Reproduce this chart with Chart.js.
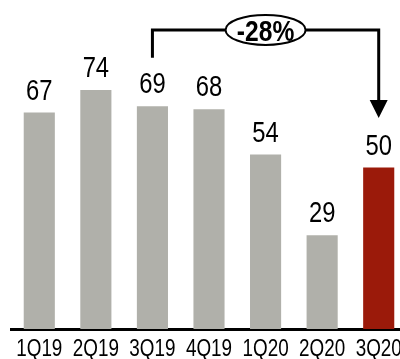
<!DOCTYPE html>
<html>
<head>
<meta charset="utf-8">
<script src="https://cdn.jsdelivr.net/npm/chart.js@4/dist/chart.umd.min.js"></script>
<style>
    html, body { margin: 0; padding: 0; background: #fff; overflow: hidden; }
    #wrap { width: 408px; height: 359px; }
</style>
</head>
<body>
<div id="wrap"><canvas id="chart" width="408" height="359"></canvas></div>
<script>
// quarterly values, last quarter highlighted
const quarters = ['1Q19', '2Q19', '3Q19', '4Q19', '1Q20', '2Q20', '3Q20'];
const values = [67, 74, 69, 68, 54, 29, 50];
const barColors = ['#b0b0aa', '#b0b0aa', '#b0b0aa', '#b0b0aa', '#b0b0aa', '#b0b0aa', '#9b1a0a'];
const changeLabel = '-28%';
const changeFrom = 2;   // 3Q19
const changeTo = 6;     // 3Q20

const FONT = "'Liberation Sans', Arial, sans-serif";
const SQUEEZE = 0.82;   // narrow look of the original type

function narrowText(ctx, text, x, y) {
    ctx.save();
    ctx.scale(SQUEEZE, 1);
    ctx.fillText(text, x / SQUEEZE, y);
    ctx.restore();
}

// value labels above each bar, quarter labels under the axis
const textLabels = {
    id: 'textLabels',
    afterDatasetsDraw(chart) {
        const ctx = chart.ctx;
        const meta = chart.getDatasetMeta(0);
        const xs = chart.scales.x;
        ctx.save();
        ctx.fillStyle = '#000';
        ctx.textAlign = 'center';
        ctx.textBaseline = 'alphabetic';
        ctx.font = '29px ' + FONT;
        meta.data.forEach((bar, i) => narrowText(ctx, String(values[i]), bar.x, bar.y - 13));
        ctx.font = '23px ' + FONT;
        quarters.forEach((q, i) => narrowText(ctx, q, xs.getPixelForValue(i), chart.chartArea.bottom + 27));
        ctx.restore();
    }
};

// bracket with arrow and the ellipse badge
const changeBracket = {
    id: 'changeBracket',
    afterDraw(chart) {
        const ctx = chart.ctx;
        const x = chart.scales.x;
        const y = chart.scales.y;
        const x1 = x.getPixelForValue(changeFrom);
        const x2 = x.getPixelForValue(changeTo);
        const top = y.getPixelForValue(92.6);
        const leftEnd = y.getPixelForValue(84);
        const tip = y.getPixelForValue(65.3);
        const headLen = 18, headHalf = 9;

        ctx.save();
        ctx.strokeStyle = '#000';
        ctx.lineWidth = 3;
        ctx.beginPath();
        ctx.moveTo(x1, leftEnd);
        ctx.lineTo(x1, top);
        ctx.lineTo(x2, top);
        ctx.lineTo(x2, tip - headLen);
        ctx.stroke();

        ctx.fillStyle = '#000';
        ctx.beginPath();
        ctx.moveTo(x2 - headHalf, tip - headLen);
        ctx.lineTo(x2 + headHalf, tip - headLen);
        ctx.lineTo(x2, tip);
        ctx.closePath();
        ctx.fill();

        const cx = (x1 + x2) / 2;
        ctx.beginPath();
        ctx.ellipse(cx, top, 40, 15, 0, 0, Math.PI * 2);
        ctx.fillStyle = '#fff';
        ctx.fill();
        ctx.lineWidth = 2;
        ctx.stroke();

        ctx.fillStyle = '#000';
        ctx.font = 'bold 30px ' + FONT;
        ctx.textAlign = 'center';
        ctx.textBaseline = 'alphabetic';
        narrowText(ctx, changeLabel, cx, top + 11);
        ctx.restore();
    }
};

new Chart(document.getElementById('chart'), {
    type: 'bar',
    data: {
        labels: quarters,
        datasets: [{
            data: values,
            backgroundColor: barColors,
            borderWidth: 0,
            barPercentage: 0.55,
            categoryPercentage: 1
        }]
    },
    options: {
        responsive: false,
        animation: false,
        layout: { padding: { left: 11, right: 1, top: 6, bottom: 30 } },
        plugins: {
            legend: { display: false },
            tooltip: { enabled: false }
        },
        scales: {
            x: {
                grid: { display: false, drawTicks: false },
                border: { display: true, color: '#000', width: 3 },
                ticks: { display: false }
            },
            y: {
                display: false,
                min: 0,
                max: 100
            }
        }
    },
    plugins: [textLabels, changeBracket]
});
</script>
</body>
</html>
